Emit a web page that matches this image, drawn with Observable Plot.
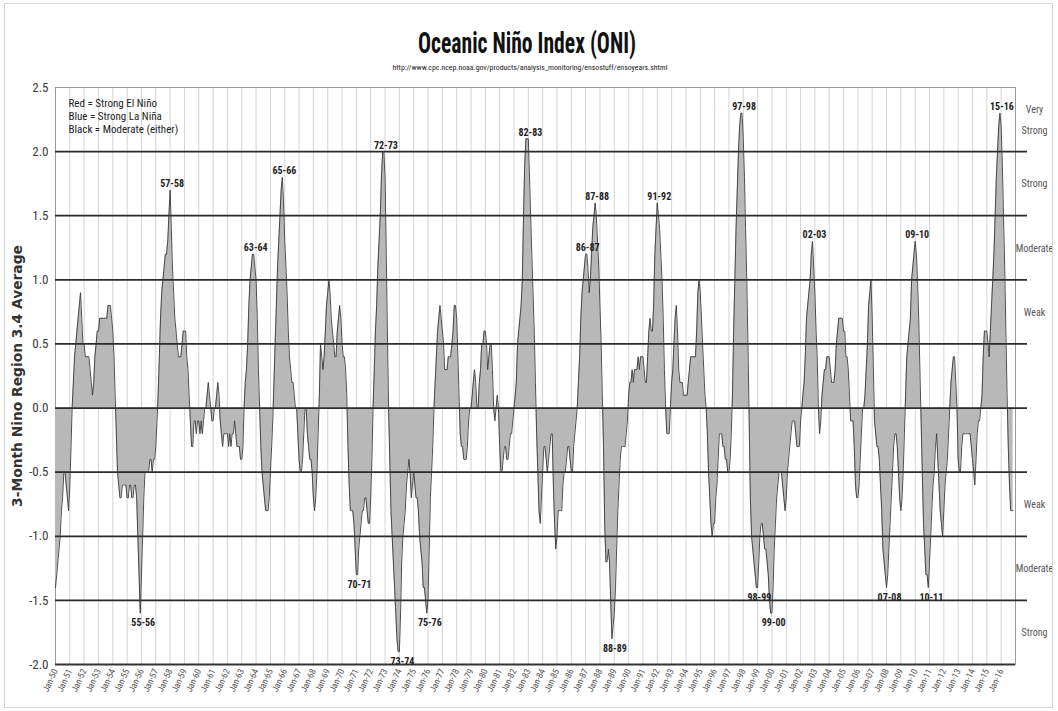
<!DOCTYPE html>
<html>
<head>
<meta charset="utf-8">
<script src="https://cdn.jsdelivr.net/npm/d3@7"></script>
<script src="https://cdn.jsdelivr.net/npm/@observablehq/plot@0.6"></script>
<style>
  html, body { margin: 0; padding: 0; background: #fff; }
  #chart { position: relative; width: 1058px; height: 711px; overflow: hidden; }
  #head { position: absolute; left: 0; top: 0; }
  #plot { position: absolute; left: 0; top: 80px; }
  #border { position: absolute; left: 4px; top: 3px; width: 1049px; height: 705px;
            border: 1px solid #d6d6d6; box-sizing: border-box; pointer-events: none; }
</style>
</head>
<body>
<div id="chart"><div id="head"></div><div id="plot"></div><div id="border"></div></div>
<script>
// Oceanic Niño Index: 3-month running mean SST anomaly, Niño 3.4, one value per month (DJF, JFM, ... NDJ)
const oni1950s = [
  -1.4,-1.3,-1.2,-1.1,-1.0,-0.8,-0.7,-0.5,-0.5,-0.6,-0.7,-0.8,
  -0.6,-0.3, 0.0, 0.2, 0.4, 0.5, 0.6, 0.7, 0.8, 0.9, 0.7, 0.5,
   0.5, 0.4, 0.4, 0.4, 0.4, 0.3, 0.2, 0.1, 0.2, 0.4, 0.5, 0.6,
   0.6, 0.7, 0.7, 0.7, 0.7, 0.7, 0.7, 0.7, 0.8, 0.8, 0.8, 0.7,
   0.6, 0.4, 0.1,-0.2,-0.5,-0.6,-0.7,-0.7,-0.6,-0.6,-0.6,-0.6,
  -0.7,-0.7,-0.6,-0.6,-0.7,-0.7,-0.6,-0.6,-0.7,-1.0,-1.3,-1.6,
  -1.3,-1.0,-0.7,-0.5,-0.5,-0.5,-0.5,-0.4,-0.4,-0.5,-0.4,-0.4,
  -0.3,-0.1, 0.1, 0.4, 0.7, 0.9, 1.0, 1.1, 1.2, 1.2, 1.3, 1.5,
   1.7, 1.4, 1.1, 0.9, 0.7, 0.6, 0.5, 0.4, 0.4, 0.4, 0.5, 0.6,
   0.6, 0.6, 0.4, 0.3, 0.1,-0.1,-0.3,-0.3,-0.1,-0.1,-0.2,-0.1
];
const oni1960s = [
  -0.1,-0.2,-0.1,-0.2,-0.1, 0.0, 0.0, 0.1, 0.2, 0.1, 0.0,-0.1,
  -0.1, 0.0, 0.0, 0.1, 0.2, 0.1,-0.1,-0.2,-0.3,-0.2,-0.2,-0.2,
  -0.2,-0.3,-0.2,-0.3,-0.2,-0.2,-0.1,-0.2,-0.3,-0.3,-0.3,-0.4,
  -0.4,-0.3, 0.0, 0.2, 0.3, 0.5, 0.8, 1.0, 1.1, 1.2, 1.2, 1.1,
   1.0, 0.7, 0.3, 0.0,-0.3,-0.5,-0.6,-0.7,-0.8,-0.8,-0.8,-0.7,
  -0.5,-0.3,-0.1, 0.2, 0.5, 0.8, 1.1, 1.3, 1.5, 1.7, 1.8, 1.6,
   1.3, 1.1, 0.9, 0.6, 0.4, 0.3, 0.2, 0.2, 0.1, 0.0, 0.0,-0.2,
  -0.4,-0.5,-0.5,-0.4,-0.2, 0.0, 0.0,-0.2,-0.3,-0.4,-0.4,-0.5,
  -0.7,-0.8,-0.7,-0.5,-0.2, 0.1, 0.5, 0.4, 0.3, 0.4, 0.6, 0.8,
   0.9, 1.0, 0.9, 0.7, 0.6, 0.5, 0.4, 0.4, 0.6, 0.7, 0.8, 0.7
];
const oni1970s = [
   0.5, 0.4, 0.4, 0.3, 0.1,-0.3,-0.6,-0.8,-0.8,-0.8,-0.9,-1.1,
  -1.3,-1.3,-1.1,-1.0,-0.9,-0.8,-0.8,-0.7,-0.7,-0.8,-0.9,-0.9,
  -0.7,-0.4, 0.0, 0.3, 0.6, 0.8, 1.1, 1.3, 1.5, 1.8, 2.0, 2.0,
   1.8, 1.2, 0.6, 0.0,-0.4,-0.8,-1.0,-1.2,-1.4,-1.6,-1.8,-1.9,
  -1.9,-1.6,-1.2,-1.0,-0.9,-0.8,-0.6,-0.5,-0.4,-0.5,-0.7,-0.6,
  -0.5,-0.6,-0.7,-0.7,-0.8,-1.0,-1.1,-1.2,-1.4,-1.4,-1.5,-1.6,
  -1.5,-1.1,-0.7,-0.5,-0.3, 0.0, 0.2, 0.4, 0.6, 0.7, 0.8, 0.7,
   0.6, 0.5, 0.3, 0.3, 0.3, 0.4, 0.4, 0.4, 0.5, 0.6, 0.8, 0.8,
   0.7, 0.4, 0.1,-0.2,-0.3,-0.3,-0.4,-0.4,-0.4,-0.3,-0.1, 0.0,
   0.0, 0.1, 0.2, 0.3, 0.2, 0.0, 0.0, 0.2, 0.3, 0.5, 0.5, 0.6
];
const oni1980s = [
   0.6, 0.5, 0.3, 0.4, 0.5, 0.5, 0.3, 0.0,-0.1, 0.0, 0.1, 0.0,
  -0.3,-0.5,-0.5,-0.4,-0.3,-0.3,-0.4,-0.4,-0.3,-0.2,-0.2,-0.1,
   0.0, 0.1, 0.2, 0.5, 0.6, 0.7, 0.8, 1.0, 1.5, 1.9, 2.1, 2.1,
   2.1, 1.8, 1.5, 1.2, 0.9, 0.6, 0.2,-0.2,-0.5,-0.8,-0.9,-0.7,
  -0.5,-0.3,-0.3,-0.4,-0.5,-0.4,-0.3,-0.2,-0.2,-0.6,-0.9,-1.1,
  -1.0,-0.8,-0.8,-0.8,-0.8,-0.6,-0.5,-0.5,-0.4,-0.3,-0.3,-0.4,
  -0.5,-0.5,-0.3,-0.2,-0.1, 0.0, 0.2, 0.4, 0.7, 0.9, 1.0, 1.1,
   1.2, 1.2, 1.1, 0.9, 1.0, 1.2, 1.4, 1.5, 1.6, 1.5, 1.3, 1.1,
   0.8, 0.5, 0.1,-0.3,-0.9,-1.2,-1.2,-1.1,-1.2,-1.5,-1.8,-1.7,
  -1.6,-1.4,-1.1,-0.8,-0.6,-0.4,-0.3,-0.3,-0.3,-0.3,-0.2,-0.1
];
const oni1990s = [
   0.1, 0.2, 0.2, 0.3, 0.2, 0.3, 0.3, 0.3, 0.4, 0.3, 0.4, 0.4,
   0.4, 0.3, 0.2, 0.2, 0.4, 0.6, 0.7, 0.6, 0.6, 0.8, 1.2, 1.4,
   1.6, 1.5, 1.4, 1.2, 1.0, 0.7, 0.3, 0.0,-0.2,-0.2,-0.2, 0.0,
   0.2, 0.3, 0.5, 0.7, 0.8, 0.6, 0.3, 0.2, 0.2, 0.2, 0.1, 0.1,
   0.1, 0.1, 0.2, 0.3, 0.4, 0.4, 0.4, 0.4, 0.4, 0.6, 0.9, 1.0,
   0.9, 0.7, 0.5, 0.3, 0.1, 0.0,-0.2,-0.5,-0.7,-0.9,-1.0,-0.9,
  -0.9,-0.7,-0.6,-0.4,-0.2,-0.2,-0.2,-0.3,-0.3,-0.4,-0.4,-0.5,
  -0.5,-0.4,-0.2, 0.1, 0.6, 1.0, 1.4, 1.7, 2.0, 2.2, 2.3, 2.3,
   2.1, 1.8, 1.4, 1.0, 0.5,-0.1,-0.7,-1.0,-1.1,-1.2,-1.3,-1.4,
  -1.4,-1.2,-1.0,-0.9,-0.9,-1.0,-1.1,-1.1,-1.2,-1.3,-1.5,-1.6
];
const oni2000s = [
  -1.6,-1.4,-1.1,-0.9,-0.7,-0.6,-0.5,-0.5,-0.5,-0.6,-0.7,-0.8,
  -0.7,-0.5,-0.4,-0.3,-0.2,-0.1,-0.1,-0.1,-0.2,-0.3,-0.3,-0.3,
  -0.1, 0.0, 0.1, 0.2, 0.4, 0.7, 0.8, 0.9, 1.0, 1.2, 1.3, 1.1,
   0.9, 0.6, 0.4, 0.0,-0.2,-0.1, 0.1, 0.2, 0.3, 0.3, 0.4, 0.4,
   0.4, 0.3, 0.2, 0.2, 0.2, 0.3, 0.5, 0.6, 0.7, 0.7, 0.7, 0.7,
   0.6, 0.6, 0.4, 0.4, 0.3, 0.1,-0.1,-0.1,-0.1,-0.3,-0.6,-0.7,
  -0.7,-0.6,-0.4,-0.2, 0.0, 0.0, 0.1, 0.3, 0.5, 0.8, 0.9, 1.0,
   0.7, 0.3,-0.1,-0.2,-0.3,-0.3,-0.4,-0.6,-0.8,-1.1,-1.2,-1.3,
  -1.4,-1.3,-1.1,-0.9,-0.7,-0.5,-0.3,-0.2,-0.2,-0.3,-0.5,-0.7,
  -0.8,-0.7,-0.5,-0.2, 0.1, 0.4, 0.5, 0.6, 0.7, 1.0, 1.1, 1.2
];
const oni2010s = [
   1.3, 1.2, 1.0, 0.7, 0.3,-0.1,-0.5,-0.9,-1.1,-1.3,-1.3,-1.4,
  -1.2,-1.0,-0.8,-0.6,-0.5,-0.3,-0.2,-0.4,-0.6,-0.8,-0.9,-1.0,
  -0.8,-0.6,-0.5,-0.4,-0.2, 0.0, 0.2, 0.3, 0.4, 0.4, 0.2, 0.0,
  -0.4,-0.5,-0.5,-0.3,-0.2,-0.2,-0.2,-0.2,-0.2,-0.2,-0.2,-0.3,
  -0.4,-0.5,-0.6,-0.4,-0.2,-0.1,-0.1, 0.0, 0.1, 0.4, 0.6, 0.6,
   0.6, 0.5, 0.4, 0.6, 0.8, 1.0, 1.2, 1.5, 1.8, 2.0, 2.2, 2.3,
   2.2, 1.9, 1.5, 1.1, 0.6, 0.1,-0.3,-0.6,-0.8,-0.8,-0.8
];

// Threshold lines and the strength bands between them
const levelLines = [2.0, 1.5, 1.0, 0.5, 0.0, -0.5, -1.0, -1.5];
const yTicks = [2.5, 2.0, 1.5, 1.0, 0.5, 0.0, -0.5, -1.0, -1.5, -2.0];
const bandNames = ["Very\nStrong", "Strong", "Moderate", "Weak", "Weak", "Moderate", "Strong"];
const bandEdges = [[2.0, 2.5], [1.5, 2.0], [1.0, 1.5], [0.5, 1.0], [-1.0, -0.5], [-1.5, -1.0], [-2.0, -1.5]];

// Named episodes: season label and the month the episode peaks
const eventNames  = ["55-56", "57-58", "63-64", "65-66", "70-71", "72-73", "73-74", "75-76", "82-83", "86-87", "87-88",
                     "88-89", "91-92", "97-98", "98-99", "99-00", "02-03", "07-08", "09-10", "10-11", "15-16"];
const eventMonths = ["1955-12", "1958-01", "1963-11", "1965-11", "1971-01", "1972-12", "1974-01", "1975-12", "1983-01", "1987-01", "1987-09",
                     "1988-11", "1992-01", "1997-12", "1998-12", "1999-12", "2002-11", "2008-01", "2010-01", "2010-12", "2015-12"];

const legendLines = ["Red = Strong El Ni\u00f1o", "Blue = Strong La Ni\u00f1a", "Black = Moderate (either)"];

const titleText = "Oceanic Ni\u00f1o Index (ONI)";
const sourceText = "http://www.cpc.ncep.noaa.gov/products/analysis_monitoring/ensostuff/ensoyears.shtml";
const yTitle = "3-Month Nino Region 3.4 Average";

// ---- build the chart ----
const oni = [...oni1950s, ...oni1960s, ...oni1970s, ...oni1980s, ...oni1990s, ...oni2000s, ...oni2010s];
const monthDate = i => new Date(Date.UTC(1950, i, 1));
const series = oni.map((v, i) => ({date: monthDate(i), value: v}));

const yearTicks = d3.range(1950, 2017).map(y => new Date(Date.UTC(y, 0, 1)));
const gridYears = yearTicks.slice(1);

// place each episode label at the extreme value within two months of its listed month
const events = eventNames.map((name, k) => {
  const [yy, mm] = eventMonths[k].split("-").map(Number);
  const c = (yy - 1950) * 12 + (mm - 1);
  const s = Math.sign(oni[c]);
  let best = c;
  for (let i = c - 2; i <= c + 2; i++) {
    if (i >= 0 && i < oni.length && s * oni[i] > s * oni[best]) best = i;
  }
  return {label: name, date: monthDate(best), value: oni[best], warm: s > 0};
});
const bands = bandNames.map((name, k) => ({label: name, y: (bandEdges[k][0] + bandEdges[k][1]) / 2}));

const narrow = "'Liberation Sans Narrow', 'Arial Narrow', 'Roboto Condensed', sans-serif";

const chart = Plot.plot({
  width: 1058,
  height: 631,
  marginTop: 7,
  marginRight: 43,
  marginBottom: 47,
  marginLeft: 55,
  style: {fontFamily: narrow, background: "transparent", color: "#333"},
  x: {type: "utc", domain: [new Date(Date.UTC(1950, 0, 1)), new Date(Date.UTC(2017, 0, 1))]},
  y: {domain: [-2, 2.5]},
  marks: [
    Plot.ruleX(gridYears, {stroke: "#d4d4d4", strokeWidth: 1}),
    Plot.frame({stroke: "#9a9a9a", strokeWidth: 1}),
    Plot.areaY(series, {x: "date", y: "value", fill: "#b8b8b8"}),
    Plot.ruleY(levelLines, {stroke: "#2a2a2a", strokeWidth: 1.8, insetRight: -12}),
    Plot.ruleY([-2], {stroke: "#333", strokeWidth: 2}),
    Plot.lineY(series, {x: "date", y: "value", stroke: "#3a3a3a", strokeWidth: 0.9}),
    Plot.axisY({ticks: yTicks, tickFormat: d => d.toFixed(1), tickSize: 0, tickPadding: 7,
                fontSize: 13, label: null, fill: "#3a3a3a"}),
    Plot.axisX({ticks: yearTicks, tickFormat: d3.utcFormat("%b-%y"), tickSize: 0, tickPadding: 5,
                tickRotate: -65, fontSize: 9, label: null, fill: "#555"}),
    Plot.text([yTitle], {frameAnchor: "left", rotate: -90, dx: -38, textAnchor: "middle",
                         fontSize: 13.8, fontWeight: "bold",
                         fontFamily: "'DejaVu Sans', Verdana, sans-serif", fill: "#333"}),
    Plot.text([legendLines.join("\n")], {frameAnchor: "top-left", dx: 13, dy: 11, lineAnchor: "top",
                                         lineHeight: 1.15, fontSize: 11, fill: "#222"}),
    Plot.text(events.filter(d => d.warm), {x: "date", y: "value", text: "label", dx: 2, dy: -3,
                                          lineAnchor: "bottom", fontSize: 10, fontWeight: "bold", fill: "#222"}),
    Plot.text(events.filter(d => !d.warm), {x: "date", y: "value", text: "label", dx: 3, dy: 6,
                                           lineAnchor: "top", fontSize: 10, fontWeight: "bold", fill: "#222"}),
    Plot.text(bands, {y: "y", text: "label", frameAnchor: "right", dx: 19, dy: -3, textAnchor: "middle",
                      lineHeight: 2.1, fontSize: 10, fill: "#555"})
  ]
});
document.getElementById("plot").appendChild(chart);

// header: title and source line
const head = d3.select("#head").append("svg").attr("width", 1058).attr("height", 80);
head.append("text")
  .attr("x", 527).attr("y", 53)
  .attr("text-anchor", "middle")
  .attr("font-family", narrow).attr("font-weight", "bold").attr("font-size", 30)
  .attr("textLength", 218).attr("lengthAdjust", "spacingAndGlyphs")
  .attr("fill", "#111")
  .text(titleText);
head.append("text")
  .attr("x", 530).attr("y", 70)
  .attr("text-anchor", "middle")
  .attr("font-family", narrow).attr("font-size", 7)
  .attr("textLength", 275).attr("lengthAdjust", "spacingAndGlyphs")
  .attr("fill", "#222")
  .text(sourceText);
</script>
</body>
</html>
